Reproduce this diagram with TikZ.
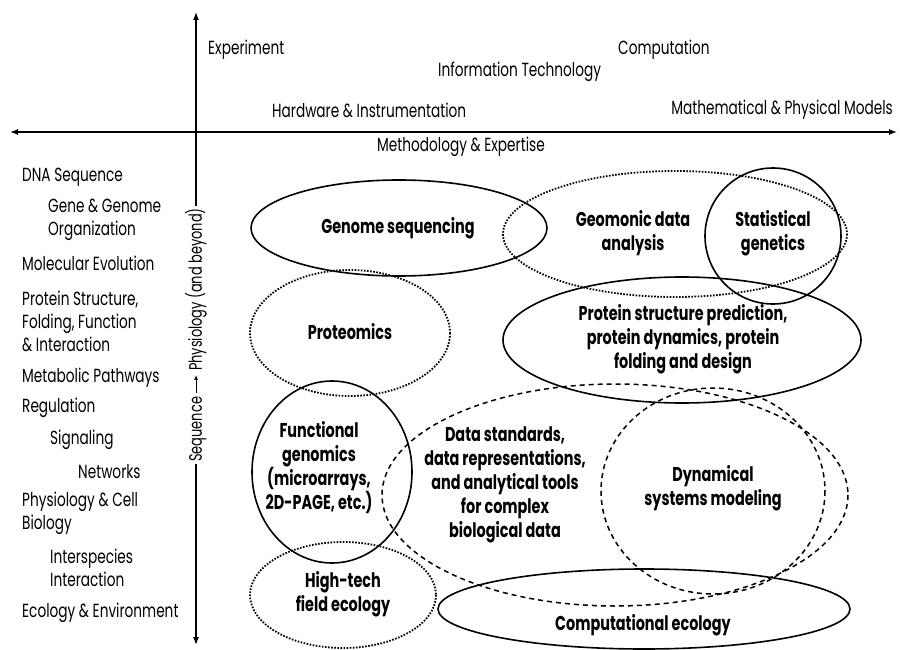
\documentclass[tikz,border=0pt]{standalone}
\usepackage{fontspec}
\setmainfont[FakeStretch=0.72]{Poppins}
\usepackage{tikz}
\usetikzlibrary{arrows.meta}

\tikzset{
  axis/.style={line width=1.2pt, {Latex[length=8pt,width=6pt]}-{Latex[length=8pt,width=6pt]}},
  solidring/.style={line width=1.6pt},
  dotring/.style={line width=1.8pt, dash pattern=on 1.6pt off 1.5pt},
  dashring/.style={line width=1.5pt, dash pattern=on 5pt off 4pt},
  topic/.style={font=\fontsize{19}{23}\selectfont, inner sep=0pt, align=left, anchor=west},
  area/.style={font=\bfseries\fontsize{20}{24}\selectfont, inner sep=0pt, align=center}
}

\begin{document}
\begin{tikzpicture}[x=1pt, y=-1pt]
\useasboundingbox (0,0) rectangle (900,650);

% axes
\draw[axis] (10,132) -- (897,132);
\draw[axis] (196,645) -- (196,12);
\node[fill=white, rotate=90, inner sep=2pt, font=\fontsize{18}{20}\selectfont] (seqaxis) at (196,335)
  {Sequence \tikz[baseline=-0.6ex]\draw[-{Latex[length=5pt,width=4pt]}, line width=1pt] (0pt,0pt) -- (18pt,0pt); Physiology (and beyond)};

% scale labels
\node[topic] (exp) at (208,50) {Experiment};
\node[topic] (comp) at (618,50) {Computation};
\node[topic] (infotech) at (438,72) {Information Technology};
\node[topic] (hardware) at (272,110) {Hardware \& Instrumentation};
\node[topic, anchor=east] (models) at (893,110) {Mathematical \& Physical Models};
\node[topic] (method) at (377,147) {Methodology \& Expertise};

% biology levels
\node[topic] (dna) at (22,177) {DNA Sequence};
\node[topic] (genome) at (48,220) {Gene \& Genome\\Organization};
\node[topic] (molevo) at (22,263) {Molecular Evolution};
\node[topic] (protein) at (22,321) {Protein Structure,\\Folding, Function\\\& Interaction};
\node[topic] (metab) at (22,378) {Metabolic Pathways};
\node[topic] (regul) at (22,408) {Regulation};
\node[topic] (signal) at (50,440) {Signaling};
\node[topic] (netw) at (78,472) {Networks};
\node[topic] (physio) at (22,513) {Physiology \& Cell\\Biology};
\node[topic] (interspec) at (50,568) {Interspecies\\Interaction};
\node[topic] (ecol) at (22,613) {Ecology \& Environment};

% research areas
\draw[solidring] (399,228) ellipse [x radius=148, y radius=48];
\draw[dotring] (675,234) ellipse [x radius=172, y radius=63];
\draw[solidring] (773,236) ellipse [x radius=68, y radius=68];
\draw[dotring] (350,333) ellipse [x radius=100, y radius=63];
\draw[solidring] (682,340) ellipse [x radius=179, y radius=63];
\draw[solidring] (332,472) ellipse [x radius=80, y radius=91];
\draw[dashring] (615,495) ellipse [x radius=233, y radius=111];
\draw[dashring] (713,491) ellipse [x radius=112, y radius=103];
\draw[dotring] (343,595) ellipse [x radius=93, y radius=53];
\draw[solidring] (644,609) ellipse [x radius=206, y radius=40];

\node[area] (genseq) at (398,228) {Genome sequencing};
\node[area] (geodata) at (633,233) {Geomonic data\\analysis};
\node[area] (statgen) at (773,233) {Statistical\\genetics};
\node[area] (proteom) at (350,332) {Proteomics};
\node[area] (protpred) at (683,339) {Protein structure prediction,\\protein dynamics, protein\\folding and design};
\node[area] (funcgen) at (319,468) {Functional\\genomics\\(microarrays,\\2D-PAGE, etc.)};
\node[area] (datastd) at (505,485) {Data standards,\\data representations,\\and analytical tools\\for complex\\biological data};
\node[area] (dynsys) at (713,488) {Dynamical\\systems modeling};
\node[area] (hitech) at (343,594) {High-tech\\field ecology};
\node[area] (compecol) at (643,625) {Computational ecology};
\end{tikzpicture}
\end{document}
